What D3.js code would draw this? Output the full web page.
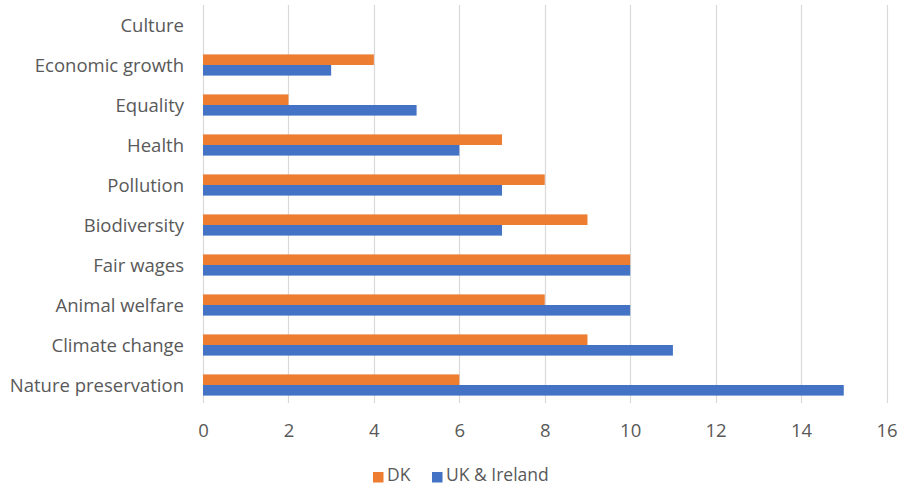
<!DOCTYPE html>
<html>
<head>
<meta charset="utf-8">
<script src="https://cdn.jsdelivr.net/npm/d3@7"></script>
<style>
  html, body { margin: 0; padding: 0; background: #fff; }
  svg { display: block; font-family: "Open Sans", "Noto Sans", sans-serif; }
</style>
</head>
<body>
<svg id="chart" width="899" height="486"></svg>
<script>
// Topics, listed top to bottom
const categories = ["Culture", "Economic growth", "Equality", "Health", "Pollution",
  "Biodiversity", "Fair wages", "Animal welfare", "Climate change", "Nature preservation"];
const dkValues = [0, 4, 2, 7, 8, 9, 10, 8, 9, 6];
const ukValues = [0, 3, 5, 6, 7, 7, 10, 10, 11, 15];
const seriesNames = ["DK", "UK & Ireland"];
const seriesColors = ["#ED7D31", "#4472C4"];
const xTicks = [0, 2, 4, 6, 8, 10, 12, 14, 16];

const svg = d3.select("#chart");
const margin = { left: 203, right: 12, top: 5, bottom: 81 };
const W = 899, H = 486;
const fontSize = 18.5;
const textColor = "#595959";

const x = d3.scaleLinear().domain([0, 16]).range([margin.left, W - margin.right - 0.5]);
const y = d3.scaleBand().domain(categories).range([margin.top, H - margin.bottom]).paddingInner(0.47).paddingOuter(0.235);
const sub = d3.scaleBand().domain(seriesNames).range([0, y.bandwidth()]);

// vertical gridlines
svg.append("g").selectAll("line").data(xTicks).join("line")
  .attr("x1", d => Math.round(x(d)) + 0.5).attr("x2", d => Math.round(x(d)) + 0.5)
  .attr("y1", margin.top).attr("y2", H - margin.bottom - 2)
  .attr("stroke", "#d9d9d9").attr("stroke-width", 1.2);

// bars
const rows = categories.map((c, i) => ({ c, vals: [dkValues[i], ukValues[i]] }));
const g = svg.append("g");
rows.forEach(r => {
  r.vals.forEach((v, j) => {
    g.append("rect")
      .attr("x", x(0))
      .attr("y", y(r.c) + sub(seriesNames[j]))
      .attr("width", x(v) - x(0))
      .attr("height", sub.bandwidth())
      .attr("fill", seriesColors[j]);
  });
});

// category labels
const yAxis = d3.axisLeft(y).tickSize(0).tickPadding(0);
const ya = svg.append("g").attr("transform", `translate(${margin.left - 19},1)`).call(yAxis);
ya.select(".domain").remove();
ya.selectAll("text").attr("font-size", fontSize).attr("fill", textColor)
  .attr("font-family", "'Open Sans', sans-serif");

// value axis labels
const xAxis = d3.axisBottom(x).tickValues(xTicks).tickSize(0).tickPadding(0);
const xa = svg.append("g").attr("transform", `translate(0,${H - 62})`).call(xAxis);
xa.select(".domain").remove();
xa.selectAll("text").attr("font-size", fontSize).attr("fill", textColor)
  .attr("font-family", "'Open Sans', sans-serif");

// legend
const legendFont = 17.5;
const legend = svg.append("g").attr("transform", "translate(0,475)");
const legendX = [373, 432];
seriesNames.forEach((n, i) => {
  legend.append("rect").attr("x", legendX[i]).attr("y", -3).attr("width", 10.5).attr("height", 10.5)
    .attr("fill", seriesColors[i]);
  legend.append("text").attr("x", legendX[i] + 14).attr("y", 0).attr("dy", "0.35em")
    .attr("font-size", legendFont).attr("fill", textColor).text(n);
});
</script>
</body>
</html>
